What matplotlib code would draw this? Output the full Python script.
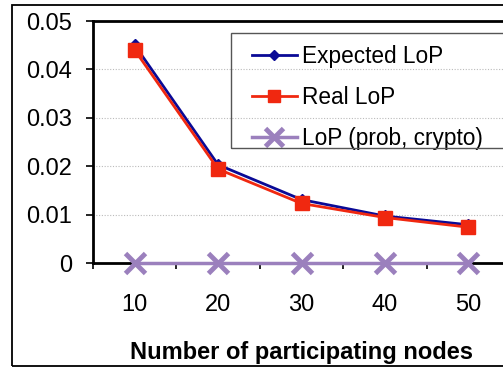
import numpy as np
import matplotlib
matplotlib.use("Agg")
import matplotlib.pyplot as plt
from matplotlib.patches import Rectangle
from matplotlib.ticker import FixedLocator, NullFormatter

plt.rcParams['font.family'] = ['Liberation Sans', 'DejaVu Sans']

# data
nodes = ['10', '20', '30', '40', '50']
expected_lop = [0.045, 0.0203, 0.0131, 0.0097, 0.0079]
real_lop = [0.044, 0.0194, 0.0123, 0.0094, 0.0074]
crypto_lop = [0, 0, 0, 0, 0]
y_ticks = [0, 0.01, 0.02, 0.03, 0.04, 0.05]
y_labels = ['0', '0.01', '0.02', '0.03', '0.04', '0.05']

W, H = 503, 369
fig = plt.figure(figsize=(W / 100, H / 100), dpi=100)

# outer chart border (runs off the right edge)
fig.patches.append(Rectangle((12 / W, 1 - 366 / H), 1.0, (366 - 5) / H,
                             transform=fig.transFigure, fill=False,
                             edgecolor='black', linewidth=1.3))

ax = fig.add_axes([93 / W, 1 - 263 / H, (510 - 93) / W, (263 - 21) / H])
x = np.arange(len(nodes))

ax.plot(x, crypto_lop, color='#9B80BD', linewidth=2.5, marker='x',
        markersize=15, markeredgewidth=3.5, label='LoP (prob, crypto)',
        zorder=3, clip_on=False)
ax.plot(x, expected_lop, color='#0A0A96', linewidth=2, marker='D',
        markersize=6, label='Expected LoP', zorder=4)
ax.plot(x, real_lop, color='#F02810', linewidth=2, marker='s',
        markersize=10, label='Real LoP', zorder=5)

ax.set_xlim(-0.5, len(nodes) - 0.5)
ax.set_ylim(0, 0.05)

ax.set_yticks(y_ticks)
ax.set_yticklabels(y_labels, fontsize=17)
ax.tick_params(axis='y', direction='out', length=5, width=1.2, pad=10)

# ticks between categories, labels at category centres
ax.xaxis.set_major_locator(FixedLocator(np.arange(-0.5, len(nodes), 1.0)))
ax.xaxis.set_major_formatter(NullFormatter())
ax.xaxis.set_minor_locator(FixedLocator(x))
ax.set_xticks(x, minor=True)
ax.set_xticklabels(nodes, minor=True, fontsize=17)
ax.tick_params(axis='x', which='major', direction='out', length=4, width=1.2)
ax.tick_params(axis='x', which='minor', length=0, pad=22)

ax.set_xlabel('Number of participating nodes', fontsize=17, fontweight='bold',
              labelpad=18)

for y in y_ticks[1:-1]:
    ax.axhline(y, color='#BBBBBB', linewidth=0.8, linestyle=(0, (1, 1.5)),
               zorder=1)

for side in ['left', 'top', 'bottom', 'right']:
    ax.spines[side].set_linewidth(2)
    ax.spines[side].set_color('black')

# legend box
fig.patches.append(Rectangle((231 / W, 1 - 148 / H), 1.0, (148 - 33) / H,
                             transform=fig.transFigure, fill=False,
                             edgecolor='#555555', linewidth=1.0))
h, l = ax.get_legend_handles_labels()
order = [1, 2, 0]
ax.legend([h[i] for i in order], [l[i] for i in order],
          loc='upper left', bbox_to_anchor=(236 / W, 1 - 29 / H),
          bbox_transform=fig.transFigure, frameon=False, fontsize=16.3,
          handlelength=2.0, handletextpad=0.22, labelspacing=0.8,
          borderpad=0.2, markerscale=0.9)

fig.savefig('out.png', dpi=100)
